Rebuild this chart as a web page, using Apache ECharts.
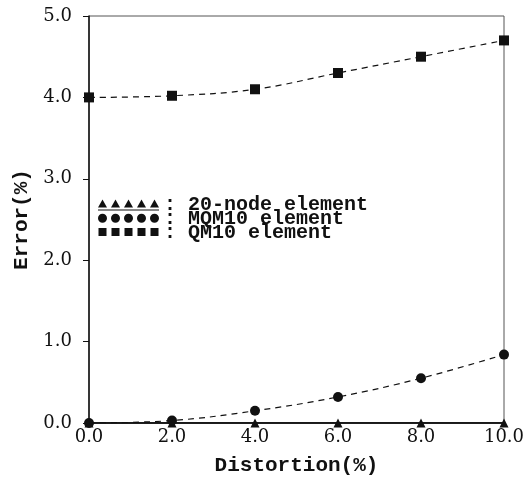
<!DOCTYPE html>
<html>
<head>
<meta charset="utf-8">
<script src="https://cdn.jsdelivr.net/npm/echarts@6/dist/echarts.min.js"></script>
<style>
  html, body { margin: 0; padding: 0; background: #fff; }
  #chart { width: 528px; height: 481px; }
</style>
</head>
<body>
<div id="chart"></div>
<script>
// distortion (%) along x
const distortion = [0, 2, 4, 6, 8, 10];
// error (%) per element type
const node20 = [0, 0, 0, 0, 0, 0];
const mqm10 = [0, 0.03, 0.15, 0.32, 0.55, 0.84];
const qm10 = [4.0, 4.02, 4.1, 4.3, 4.5, 4.7];
const seriesNames = ['20-node element', 'MQM10 element', 'QM10 element'];

// five-marker legend icons
function rowPath(shape) {
  let p = '';
  for (let i = 0; i < 5; i++) {
    const cx = 4.5 + i * 13;
    if (shape === 'tri') p += `M${cx - 4.5} 8L${cx} 0L${cx + 4.5} 8Z`;
    if (shape === 'dot') p += `M${cx - 4.5} 5A4.5 4.5 0 1 0 ${cx + 4.5} 5A4.5 4.5 0 1 0 ${cx - 4.5} 5Z`;
    if (shape === 'sq') p += `M${cx - 4} 1L${cx + 4} 1L${cx + 4} 9L${cx - 4} 9Z`;
  }
  if (shape === 'tri') p += 'M0 10L61 10L61 11L0 11Z';
  else p += 'M0 10.9L61 10.9L61 11L0 11Z';
  return 'path://' + p;
}

const chart = echarts.init(document.getElementById('chart'));
const tickFont = { fontFamily: 'DejaVu Serif', fontSize: 18, color: '#111' };
const nameFont = { fontFamily: 'Liberation Mono', fontWeight: 'bold', fontSize: 21, color: '#111' };

function pairs(ys) {
  return distortion.map((x, i) => [x, ys[i]]);
}

chart.setOption({
  animation: false,
  grid: { left: 89, right: 24, top: 16, bottom: 58, show: true, borderColor: '#555', borderWidth: 1 },
  legend: {
    orient: 'vertical',
    left: 98,
    top: 195,
    padding: 0,
    itemGap: -6,
    itemWidth: 61,
    itemHeight: 11,
    itemStyle: { borderWidth: 0 },
    textStyle: { fontFamily: 'Liberation Mono', fontWeight: 'bold', fontSize: 20, color: '#111' },
    formatter: name => ': ' + name,
    data: [
      { name: seriesNames[0], icon: rowPath('tri') },
      { name: seriesNames[1], icon: rowPath('dot') },
      { name: seriesNames[2], icon: rowPath('sq') }
    ]
  },
  xAxis: {
    type: 'value',
    min: 0,
    max: 10,
    interval: 2,
    name: 'Distortion(%)',
    nameLocation: 'middle',
    nameGap: 32,
    nameTextStyle: nameFont,
    axisLine: { lineStyle: { color: '#111', width: 1.5 } },
    axisTick: { show: false },
    axisLabel: Object.assign({ margin: 5, formatter: v => v.toFixed(1) }, tickFont),
    splitLine: { show: false }
  },
  yAxis: {
    type: 'value',
    min: 0,
    max: 5,
    interval: 1,
    name: 'Error(%)',
    nameLocation: 'middle',
    nameRotate: 90,
    nameGap: 57,
    nameTextStyle: nameFont,
    axisLine: { show: true, lineStyle: { color: '#111', width: 1.5 } },
    axisTick: { show: true, length: 6, lineStyle: { color: '#111' } },
    axisLabel: Object.assign({ margin: 17, formatter: v => v.toFixed(1) }, tickFont),
    splitLine: { show: false }
  },
  series: [
    {
      name: seriesNames[0],
      type: 'line',
      data: pairs(node20),
      symbol: 'triangle',
      symbolSize: [9, 9],
      color: '#111',
      lineStyle: { color: '#111', width: 1.5 },
      z: 3
    },
    {
      name: seriesNames[1],
      type: 'line',
      data: pairs(mqm10),
      smooth: 0.4,
      symbol: 'circle',
      symbolSize: 10,
      color: '#111',
      lineStyle: { color: '#111', width: 1.2, type: [6, 5] }
    },
    {
      name: seriesNames[2],
      type: 'line',
      data: pairs(qm10),
      smooth: 0.4,
      symbol: 'rect',
      symbolSize: 10,
      color: '#111',
      lineStyle: { color: '#111', width: 1.2, type: [6, 5] }
    }
  ]
});
</script>
</body>
</html>
